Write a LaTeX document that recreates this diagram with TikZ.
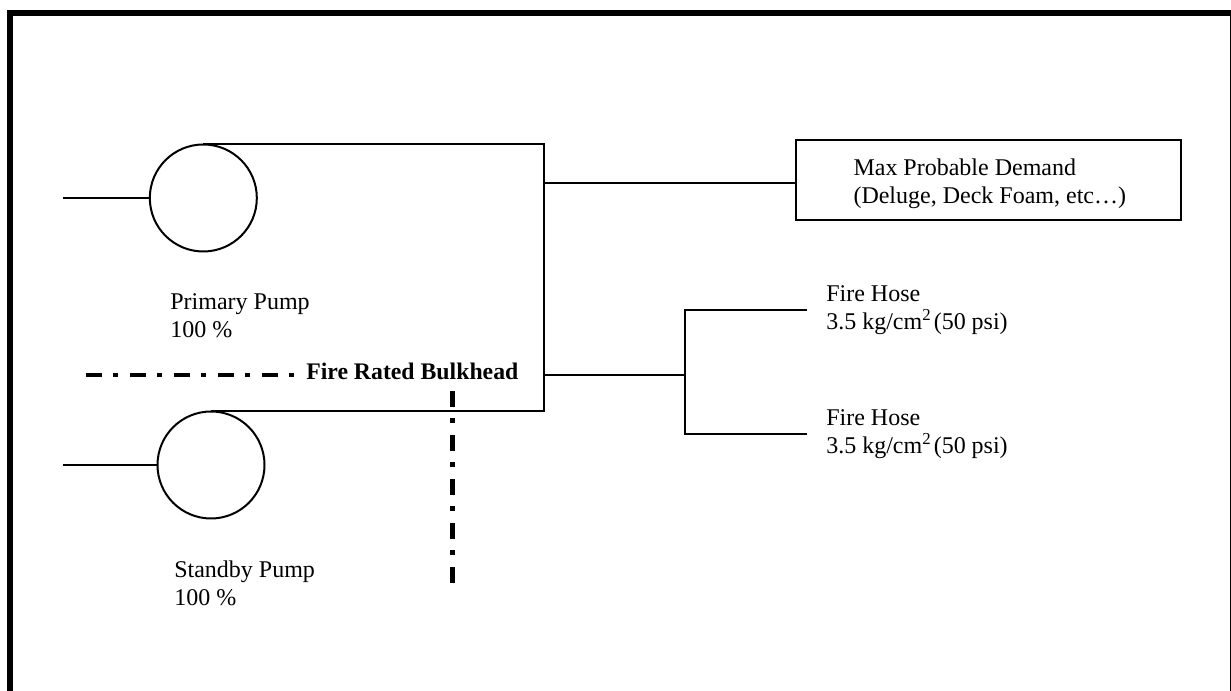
\documentclass[tikz,border=0pt]{standalone}
\usepackage{fontspec}
\setmainfont{Liberation Serif}
\usetikzlibrary{positioning}

\begin{document}
\begin{tikzpicture} [auto, node distance=0.5cm]
    \tikzstyle{every node}=[font=\fontsize{17.07}{19.92}\selectfont]
    \tikzset{
      pipe/.style={draw=black, line width=0.05cm},
      pump/.style={pipe, circle, inner sep=0pt, outer sep=0pt, minimum size=2.675cm},
      lbl/.style={inner sep=0pt, align=flush left},
      hose/.style={inner ysep=0pt, inner xsep=0.475cm, align=flush left},
      demandbox/.style={pipe, rectangle, inner sep=0pt, minimum width=9.625cm, minimum height=2cm, align=flush left, text width=9.625cm},
      bulkline/.style={draw=black, line width=0.115cm, dash pattern=on 0.41cm off 0.27cm on 0.11cm off 0.31cm},
      frameline/.style={draw=black, line width=0.1625cm}
    }
    \clip (0,0) rectangle (30.775,17.275);
    \coordinate (frameSW) at (0.244,-1);
    \coordinate (frameNW) at (0.244,16.95);
    \coordinate (frameNE) at (30.825,16.95);
    \coordinate (frameSE) at (30.825,-1);
    \draw[frameline] (frameSW) -- (frameNW) -- (frameNE) -- (frameSE);

    \node[pump]                    (pump1) at (5.083,12.325) {};
    \node[pump]                    (pump2) at (5.275,5.65) {};
    \coordinate[left = 2.175cm of pump1.west] (suction1);
    \coordinate[left = 2.375cm of pump2.west] (suction2);
    \node[lbl, below right = 1.04cm and -0.83cm of pump1.south]  (primary) {Primary Pump\\100 \%};
    \node[lbl, below right = 1.06cm and -0.925cm of pump2.south] (standby) {Standby Pump\\100 \%};

    \coordinate (headerlow) at (13.6,7.9);
    \coordinate[above = 4.81cm of headerlow]  (headertop);
    \coordinate[right = 3.525cm of headerlow] (tee);

    % first line made taller so the text sits low in the box
    \node[demandbox, right = 6.2625cm of headertop, yshift=0.07cm] (demand)
      {\hspace*{1.45cm}\rule{0pt}{0.6cm}Max Probable Demand\\\hspace*{1.45cm}(Deluge, Deck Foam, etc\ldots)};
    \node[hose, right = 3.05cm of tee, yshift=1.625cm]  (hose1) {Fire Hose\\3.5 kg/cm\textsuperscript{2}\kern-0.15em{} (50 psi)};
    \node[hose, right = 3.05cm of tee, yshift=-1.475cm] (hose2) {Fire Hose\\3.5 kg/cm\textsuperscript{2}\kern-0.15em{} (50 psi)};

    \coordinate (bulkstart) at (2.15,7.9);
    \node[inner ysep=0pt, inner xsep=0.275cm, right = 5.225cm of bulkstart, yshift=0.08cm, font=\fontsize{16.9}{19.92}\selectfont\bfseries] (bulkhead) {Fire Rated Bulkhead};
    \coordinate (bulktop) at (11.3125,7.5);
    \coordinate[below = 4.8cm of bulktop] (bulkend);

    \draw[pipe] (suction1) -- (pump1.west);
    \draw[pipe] (suction2) -- (pump2.west);
    \draw[pipe] (pump1.north) -| (headerlow) |- (pump2.north);
    \draw[pipe] (headertop) -- (headertop -| demand.west);
    \draw[pipe] (headerlow) -- (tee);
    \draw[pipe] (hose1.west) -| (tee) |- (hose2.west);

    \draw[bulkline] (bulkstart) -- (bulkstart -| bulkhead.west);
    \draw[bulkline] (bulktop) -- (bulkend);
\end{tikzpicture}
\end{document}
